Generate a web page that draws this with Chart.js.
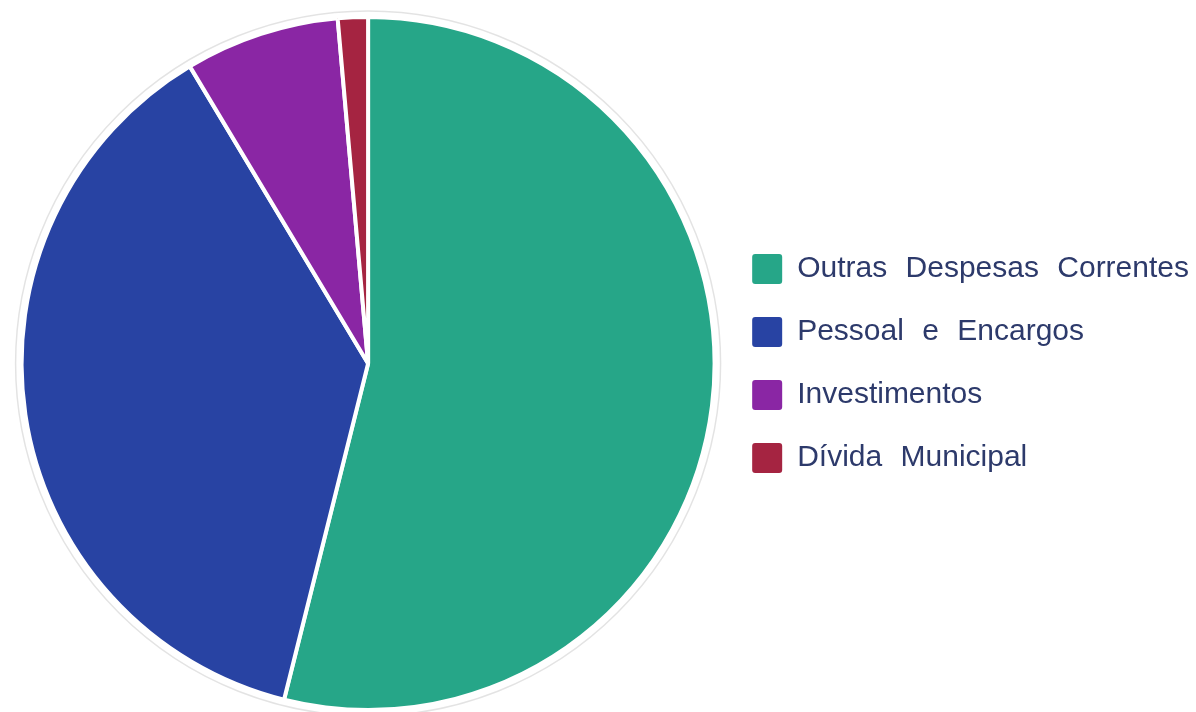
<!DOCTYPE html>
<html><head><meta charset="utf-8">
<script src="https://cdn.jsdelivr.net/npm/chart.js@4/dist/chart.umd.min.js"></script>
<style>html,body{margin:0;padding:0;background:#fff;}#wrap{width:1196px;height:712px;position:relative;}</style>
</head><body><div id="wrap"><canvas id="c"></canvas></div>
<script>
const categories = ["Outras Despesas Correntes", "Pessoal e Encargos", "Investimentos", "Dívida Municipal"];
const values = [53.9, 37.5, 7.2, 1.4];
const colors = ["#26a688", "#2843a3", "#8a26a4", "#a52441"];

const spacing = {
  id: 'wordSpacing',
  beforeLayout(chart) { chart.ctx.wordSpacing = '10px'; },
  beforeDraw(chart) { chart.ctx.wordSpacing = '10px'; }
};

const outerRing = {
  id: 'outerRing',
  afterDatasetsDraw(chart) {
    const arc = chart.getDatasetMeta(0).data[0];
    if (!arc) return;
    const ctx = chart.ctx;
    ctx.save();
    ctx.beginPath();
    ctx.arc(arc.x, arc.y, arc.outerRadius + 6, 0, Math.PI * 2);
    ctx.strokeStyle = 'rgba(0,0,0,0.11)';
    ctx.lineWidth = 1.5;
    ctx.stroke();
    ctx.restore();
  }
};

new Chart(document.getElementById('c'), {
  type: 'pie',
  data: { labels: categories, datasets: [{ data: values, backgroundColor: colors, borderColor: '#fff', borderWidth: 4 }] },
  options: {
    responsive: true, maintainAspectRatio: false, animation: false,
    layout: { padding: { top: 15, bottom: 0, left: 17, right: -3 } },
    plugins: {
      tooltip: { enabled: false },
      legend: {
        position: 'right',
        labels: {
          boxWidth: 30, boxHeight: 30, padding: 33, color: '#2d3a6b',
          font: { family: "'Liberation Sans', Arial, sans-serif", size: 30 },
          generateLabels(chart) {
            return chart.data.labels.map((l, i) => ({ text: l, fillStyle: colors[i], strokeStyle: colors[i], fontColor: '#2d3a6b', lineWidth: 0, borderRadius: 3, index: i, hidden: false }));
          }
        }
      }
    }
  },
  plugins: [spacing, outerRing]
});
</script></body></html>
